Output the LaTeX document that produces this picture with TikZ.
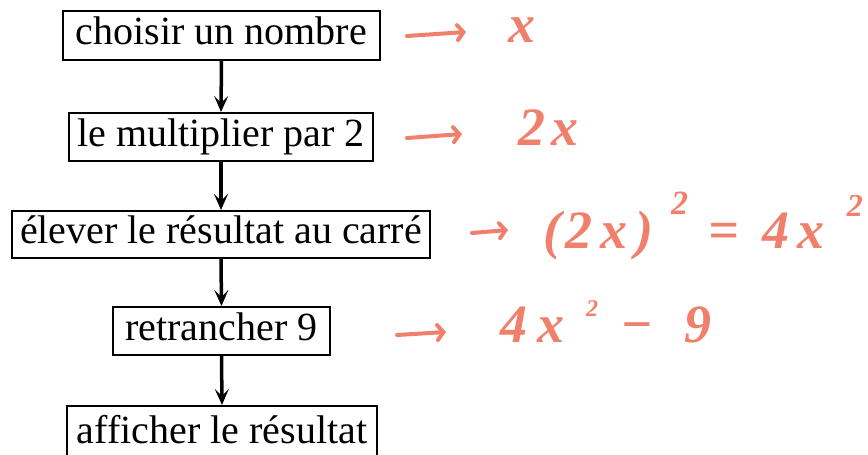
\documentclass[tikz,border=0pt]{standalone}
\usepackage{fontspec}
\setmainfont{Liberation Serif}
\newfontfamily\handfont{Liberation Serif}
\usetikzlibrary{arrows.meta}
\definecolor{salmon}{RGB}{240,128,108}
\newcommand\hsup[2]{\raisebox{#1}{\fontsize{#2}{#2}\selectfont 2}}
\begin{document}
\begin{tikzpicture}[x=1pt,y=-1pt,
  stepbox/.style={draw,line width=2pt,inner sep=0pt,font=\fontsize{40}{48}\selectfont,
    text depth=10pt},
  flow/.style={line width=3.5pt,-{Stealth[length=16pt,width=14pt,inset=7pt]}},
  hand/.style={salmon,line width=4pt,line cap=round,-{Straight Barb[length=6pt,width=15pt,line cap=round]}},
  expr/.style={salmon,anchor=base west,inner sep=0pt,font=\handfont\fontsize{54}{60}\selectfont\bfseries\itshape}]
\useasboundingbox (0,0) rectangle (868,455);
\clip (0,0) rectangle (868,455);
\node[stepbox,minimum width=317pt,minimum height=49pt,text height=29pt] (b1) at (221.5,35.5) {choisir un nombre};
\node[stepbox,minimum width=304pt,minimum height=48pt,text height=28pt] (b2) at (221,137) {le multiplier par 2};
\node[stepbox,minimum width=418pt,minimum height=47pt,text height=27pt] (b3) at (221,234.5) {élever le résultat au carré};
\node[stepbox,minimum width=217pt,minimum height=48pt,text height=28pt] (b4) at (221.5,331) {retrancher 9};
\node[stepbox,minimum width=310pt,minimum height=52pt,text height=32pt] (b5) at (222,432) {afficher le résultat};
\draw[flow] (b1.south) -- (b2.north);
\draw[flow] (b2.south) -- (b3.north);
\draw[flow] (b3.south) -- (b4.north);
\draw[flow] (b4.south) -- (b5.north);
% handwritten annotations
\node[expr] (e1) at (508,42) {x};
\node[expr] (e2) at (518,145) {2\hspace{6pt}x};
\node[expr] (e3) at (543,248) {(\hspace{4pt}2\hspace{8pt}x\hspace{8pt})\hspace{18pt}\hsup{34pt}{34}\hspace{20pt}=\hspace{24pt}4\hspace{8pt}x\hspace{22pt}\hsup{32pt}{32}};
\node[expr] (e4) at (500,342) {4\hspace{10pt}x\hspace{22pt}\hsup{26pt}{24}\hspace{22pt}−\hspace{32pt}9};
\coordinate (a1s) at (407,36); \coordinate (a1e) at (466,32);
\coordinate (a2s) at (407,138); \coordinate (a2e) at (462,134);
\coordinate (a3s) at (472,233); \coordinate (a3e) at (508,230);
\coordinate (a4s) at (397,335); \coordinate (a4e) at (446,332);
\draw[hand] (a1s) -- (a1e);
\draw[hand] (a2s) -- (a2e);
\draw[hand] (a3s) -- (a3e);
\draw[hand] (a4s) -- (a4e);
\end{tikzpicture}
\end{document}
